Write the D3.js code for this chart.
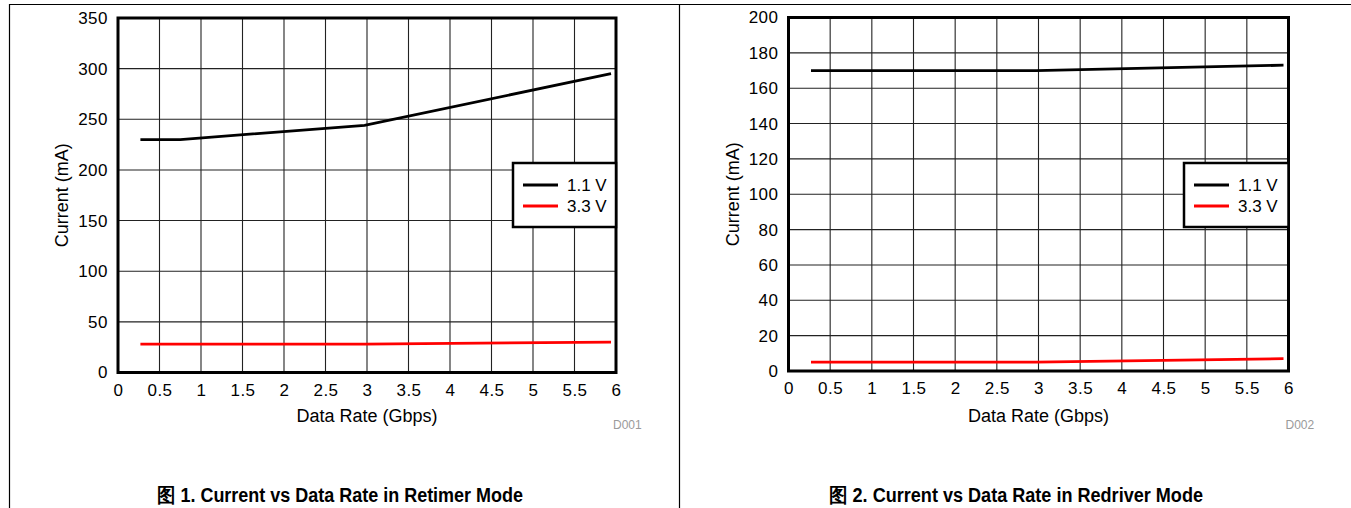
<!DOCTYPE html>
<html><head><meta charset="utf-8">
<script src="https://cdn.jsdelivr.net/npm/d3@7"></script>
<style>
body{margin:0;background:#fff;}
svg{display:block;}
text{font-family:"Liberation Sans",Arial,sans-serif;fill:#000;}
</style></head>
<body><svg id="c" width="1351" height="508"></svg>
<script>
// ---- data ----
const xTicks = [0,0.5,1,1.5,2,2.5,3,3.5,4,4.5,5,5.5,6];
const xTickLabels = ["0","0.5","1","1.5","2","2.5","3","3.5","4","4.5","5","5.5","6"];
const rate1 = [0.27, 0.75, 2.97, 5.94];
const retimer11 = [230, 230, 244, 295];
const rate2 = [0.27, 2.97, 5.94];
const retimer33 = [28, 28, 30];
const redriver11 = [170, 170, 173];
const redriver33 = [5, 5, 7];
const yTicksRetimer = [0,50,100,150,200,250,300,350];
const yTicksRedriver = [0,20,40,60,80,100,120,140,160,180,200];
const seriesNames = ["1.1 V","3.3 V"];
const seriesColors = ["#000000","#ff0000"];
const captions = ["图 1. Current vs Data Rate in Retimer Mode","图 2. Current vs Data Rate in Redriver Mode"];
const codes = ["D001","D002"];
const xTitle = "Data Rate (Gbps)";
const yTitle = "Current (mA)";

const svg = d3.select("#c");

// panel frame lines
svg.append("line").attr("x1",9).attr("x2",1351).attr("y1",4.5).attr("y2",4.5).attr("stroke","#000").attr("stroke-width",1.2);
svg.append("line").attr("x1",9.5).attr("x2",9.5).attr("y1",4).attr("y2",508).attr("stroke","#000").attr("stroke-width",1.2);
svg.append("line").attr("x1",679.5).attr("x2",679.5).attr("y1",4).attr("y2",508).attr("stroke","#000").attr("stroke-width",1.2);

function drawChart(o){
  const g = svg.append("g");
  const x = d3.scaleLinear().domain([0,6]).range([o.x0,o.x1]);
  const y = d3.scaleLinear().domain([0,o.ymax]).range([o.y1,o.y0]);
  // gridlines
  g.append("g").selectAll("line").data(xTicks.slice(1,-1)).join("line")
    .attr("x1",d=>x(d)).attr("x2",d=>x(d)).attr("y1",o.y0).attr("y2",o.y1)
    .attr("stroke","#222").attr("stroke-width",1.1);
  g.append("g").selectAll("line").data(o.yTicks.slice(1,-1)).join("line")
    .attr("y1",d=>y(d)).attr("y2",d=>y(d)).attr("x1",o.x0).attr("x2",o.x1)
    .attr("stroke","#222").attr("stroke-width",1.1);
  // axes via d3
  const ax = d3.axisBottom(x).tickValues(xTicks).tickFormat((d,i)=>xTickLabels[i]).tickSize(0).tickPadding(11);
  const ag = g.append("g").attr("transform",`translate(0,${o.y1})`).call(ax);
  ag.select(".domain").remove();
  ag.selectAll("text").attr("font-size",17).attr("font-family","Liberation Sans").attr("fill","#000").attr("letter-spacing",0.5);
  const ay = d3.axisLeft(y).tickValues(o.yTicks).tickSize(0).tickPadding(10);
  const agy = g.append("g").attr("transform",`translate(${o.x0},0)`).call(ay);
  agy.select(".domain").remove();
  agy.selectAll("text").attr("font-size",17).attr("font-family","Liberation Sans").attr("fill","#000").attr("letter-spacing",0.5);
  // lines
  const line = d3.line().x(d=>x(d[0])).y(d=>y(d[1]));
  o.series.forEach((s,i)=>{
    g.append("path").datum(s.xs.map((v,j)=>[v,s.ys[j]])).attr("d",line)
      .attr("fill","none").attr("stroke",seriesColors[i]).attr("stroke-width",2.8);
  });
  // frame
  g.append("rect").attr("x",o.x0).attr("y",o.y0).attr("width",o.x1-o.x0).attr("height",o.y1-o.y0)
    .attr("fill","none").attr("stroke","#000").attr("stroke-width",3);
  // legend
  const lg = g.append("g");
  lg.append("rect").attr("x",o.lx).attr("y",163).attr("width",o.x1-o.lx).attr("height",64)
    .attr("fill","#fff").attr("stroke","#000").attr("stroke-width",2.5);
  seriesNames.forEach((n,i)=>{
    const yy = 185 + i*21;
    lg.append("line").attr("x1",o.lx+10).attr("x2",o.lx+45).attr("y1",yy).attr("y2",yy)
      .attr("stroke",seriesColors[i]).attr("stroke-width",2.8);
    lg.append("text").attr("x",o.lx+54).attr("y",yy+6).attr("font-size",17).text(n);
  });
  // titles
  g.append("text").attr("x",(o.x0+o.x1)/2).attr("y",422).attr("text-anchor","middle").attr("font-size",18).text(xTitle);
  g.append("text").attr("transform",`translate(${o.x0-50},${(o.y0+o.y1)/2}) rotate(-90)`)
    .attr("text-anchor","middle").attr("font-size",18).text(yTitle);
  g.append("text").attr("x",o.x1-3).attr("y",429).attr("font-size",12).attr("fill","#9a9a9a").style("fill","#9a9a9a").text(o.code);
  g.append("text").attr("x",o.capx).attr("y",502).attr("text-anchor","middle")
    .attr("font-size",19.5).attr("font-weight","bold").attr("font-family","'Liberation Sans Narrow','Liberation Sans',sans-serif")
    .attr("textLength",o.capw).attr("lengthAdjust","spacingAndGlyphs").text(o.caption);
}

drawChart({x0:118,x1:616,y0:18,y1:372.5,ymax:350,yTicks:yTicksRetimer,lx:513,
  series:[{xs:rate1,ys:retimer11},{xs:rate2,ys:retimer33}],caption:captions[0],code:codes[0],capx:340,capw:366});
drawChart({x0:788.5,x1:1288.5,y0:17.5,y1:371,ymax:200,yTicks:yTicksRedriver,lx:1184,
  series:[{xs:rate2,ys:redriver11},{xs:rate2,ys:redriver33}],caption:captions[1],code:codes[1],capx:1016,capw:374});
</script></body></html>
